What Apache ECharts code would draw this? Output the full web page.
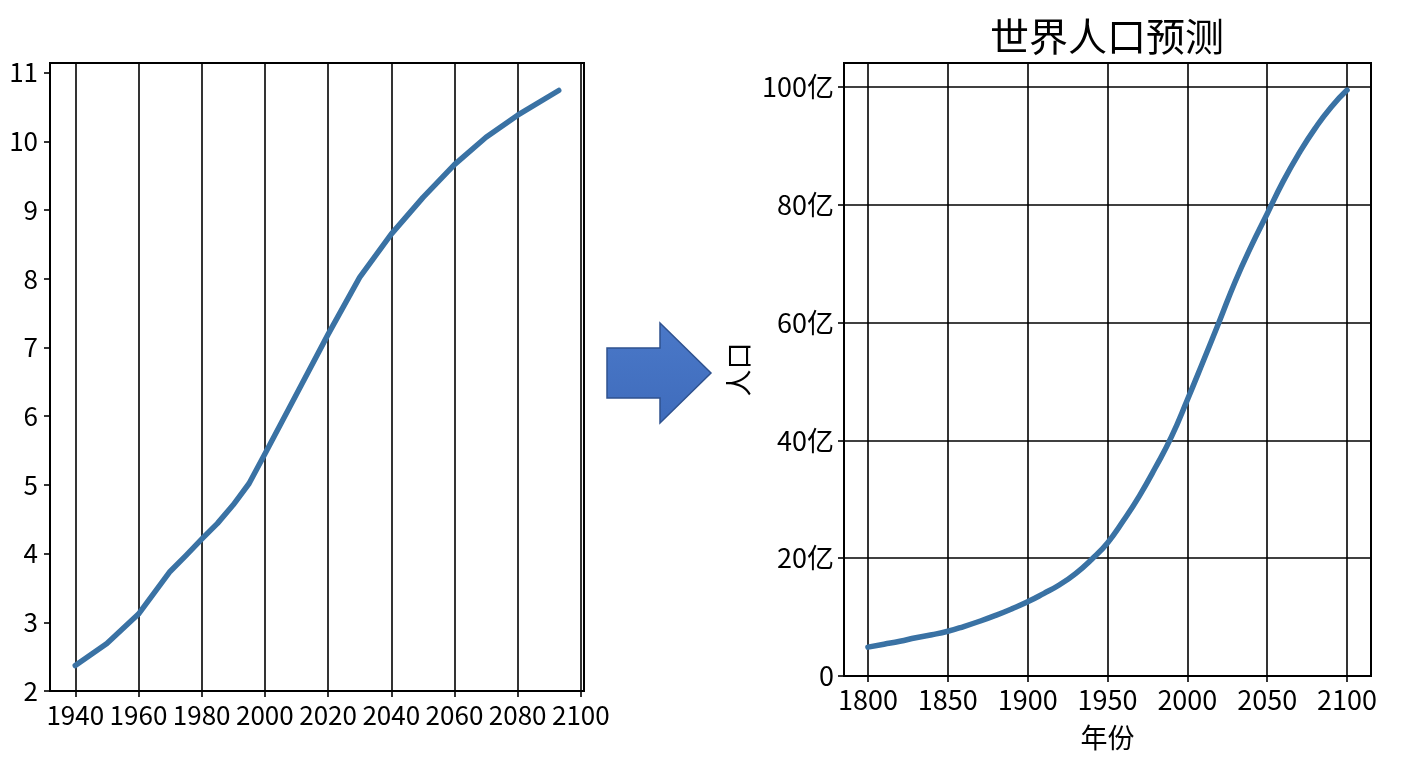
<!DOCTYPE html>
<html lang="zh">
<head>
    <meta charset="UTF-8">
    <title>世界人口预测</title>
    <script src="https://cdn.jsdelivr.net/npm/echarts@6.0.0/dist/echarts.min.js"></script>
    <style>
        html, body { margin: 0; padding: 0; background: #fff; }
        #myChart { width: 1408px; height: 768px; }
    </style>
</head>
<body>
<div id="myChart"></div>
<script>
    // left panel: world population, billions
    var leftYears = [1940, 1950, 1960, 1970, 1975, 1980, 1985, 1990, 1995, 2000, 2010, 2020, 2030, 2040, 2050, 2060, 2070, 2080, 2093];
    var leftValues = [2.37, 2.69, 3.12, 3.74, 3.97, 4.21, 4.44, 4.71, 5.02, 5.45, 6.32, 7.19, 8.02, 8.65, 9.18, 9.66, 10.06, 10.38, 10.74];
    var leftXTicks = [1940, 1960, 1980, 2000, 2020, 2040, 2060, 2080, 2100];
    var leftYTicks = [2, 3, 4, 5, 6, 7, 8, 9, 10, 11];

    // right panel: world population, 亿
    var rightYears = [1800, 1810, 1820, 1830, 1840, 1850, 1860, 1870, 1880, 1890, 1900, 1910, 1920, 1930, 1940, 1950,
        1960, 1970, 1980, 1990, 2000, 2010, 2020, 2030, 2040, 2050, 2060, 2070, 2080, 2090, 2100];
    var rightValues = [4.9, 5.4, 5.9, 6.5, 7.0, 7.6, 8.4, 9.3, 10.3, 11.4, 12.6, 14.0, 15.5, 17.4, 19.8, 22.6,
        26.4, 30.6, 35.4, 40.6, 46.9, 53.5, 60.2, 67.0, 73.0, 78.5, 84.0, 88.8, 93.0, 96.6, 99.5];
    var rightXTicks = [1800, 1850, 1900, 1950, 2000, 2050, 2100];
    var rightYTicks = [0, 20, 40, 60, 80, 100];

    function pairs(xs, ys) {
        var out = [];
        for (let i = 0; i < xs.length; i++) {
            out.push([xs[i], ys[i]]);
        }
        return out;
    }

    var font = '"Noto Sans CJK SC", "Noto Sans", sans-serif';
    var lineColor = '#3a72a4';
    var black = '#000';

    function axisCommon(ticks, fontSize, margin, showSplit) {
        return {
            axisLine: { show: true, onZero: false, lineStyle: { color: black, width: 2 } },
            axisTick: { show: true, inside: false, length: 6, customValues: ticks, lineStyle: { color: black, width: 1.6 } },
            axisLabel: {
                customValues: ticks, color: black, fontSize: fontSize, fontFamily: font, margin: margin,
                formatter: function (v) { return String(v); }
            },
            splitLine: { show: showSplit, lineStyle: { color: black, width: 1.6 } }
        };
    }

    var myChart = echarts.init(document.getElementById('myChart'));

    var xLeft = Object.assign({ type: 'value', gridIndex: 0, min: 1932, max: 2101 }, axisCommon(leftXTicks, 26, 11, true));
    var yLeft = Object.assign({ type: 'value', gridIndex: 0, min: 2, max: 11.14 }, axisCommon(leftYTicks, 26, 12, false));
    var xRight = Object.assign({
        type: 'value', gridIndex: 1, min: 1785, max: 2115,
        name: '年份', nameLocation: 'middle', nameGap: 48,
        nameTextStyle: { color: black, fontSize: 27, fontFamily: font }
    }, axisCommon(rightXTicks, 27, 10, true));
    var yRight = Object.assign({
        type: 'value', gridIndex: 1, min: 0, max: 104.1,
        name: '人口', nameLocation: 'middle', nameRotate: 90, nameGap: 92,
        nameTextStyle: { color: black, fontSize: 27, fontFamily: font }
    }, axisCommon(rightYTicks, 27, 10, true));
    yRight.axisLabel.formatter = function (v) { return v === 0 ? '0' : v + '亿'; };

    myChart.setOption({
        animation: false,
        backgroundColor: '#fff',
        title: {
            text: '世界人口预测',
            left: 1102,
            top: 12,
            textAlign: 'center',
            textStyle: { color: black, fontSize: 39, fontWeight: 'normal', fontFamily: font }
        },
        grid: [
            { left: 50, top: 63, width: 534, height: 628, show: true, borderColor: black, borderWidth: 2, outerBoundsMode: 'none' },
            { left: 844, top: 63, width: 527, height: 613, show: true, borderColor: black, borderWidth: 2, outerBoundsMode: 'none' }
        ],
        xAxis: [xLeft, xRight],
        yAxis: [yLeft, yRight],
        graphic: [
            {
                type: 'polygon',
                shape: { points: [[607, 348], [660, 348], [660, 323], [711, 373], [660, 423], [660, 398], [607, 398]] },
                style: {
                    fill: new echarts.graphic.LinearGradient(0, 0, 0, 1, [
                        { offset: 0, color: '#4a78c8' },
                        { offset: 1, color: '#3f6cbc' }
                    ]),
                    stroke: '#2f528f',
                    lineWidth: 1.5
                }
            }
        ],
        series: [
            {
                type: 'line',
                xAxisIndex: 0,
                yAxisIndex: 0,
                symbol: 'none',
                smooth: false,
                lineStyle: { color: lineColor, width: 5.5, cap: 'round', join: 'round' },
                data: pairs(leftYears, leftValues)
            },
            {
                type: 'line',
                xAxisIndex: 1,
                yAxisIndex: 1,
                symbol: 'none',
                smooth: 0.5,
                lineStyle: { color: lineColor, width: 5.5, cap: 'round', join: 'round' },
                data: pairs(rightYears, rightValues)
            }
        ]
    });
</script>
</body>
</html>
